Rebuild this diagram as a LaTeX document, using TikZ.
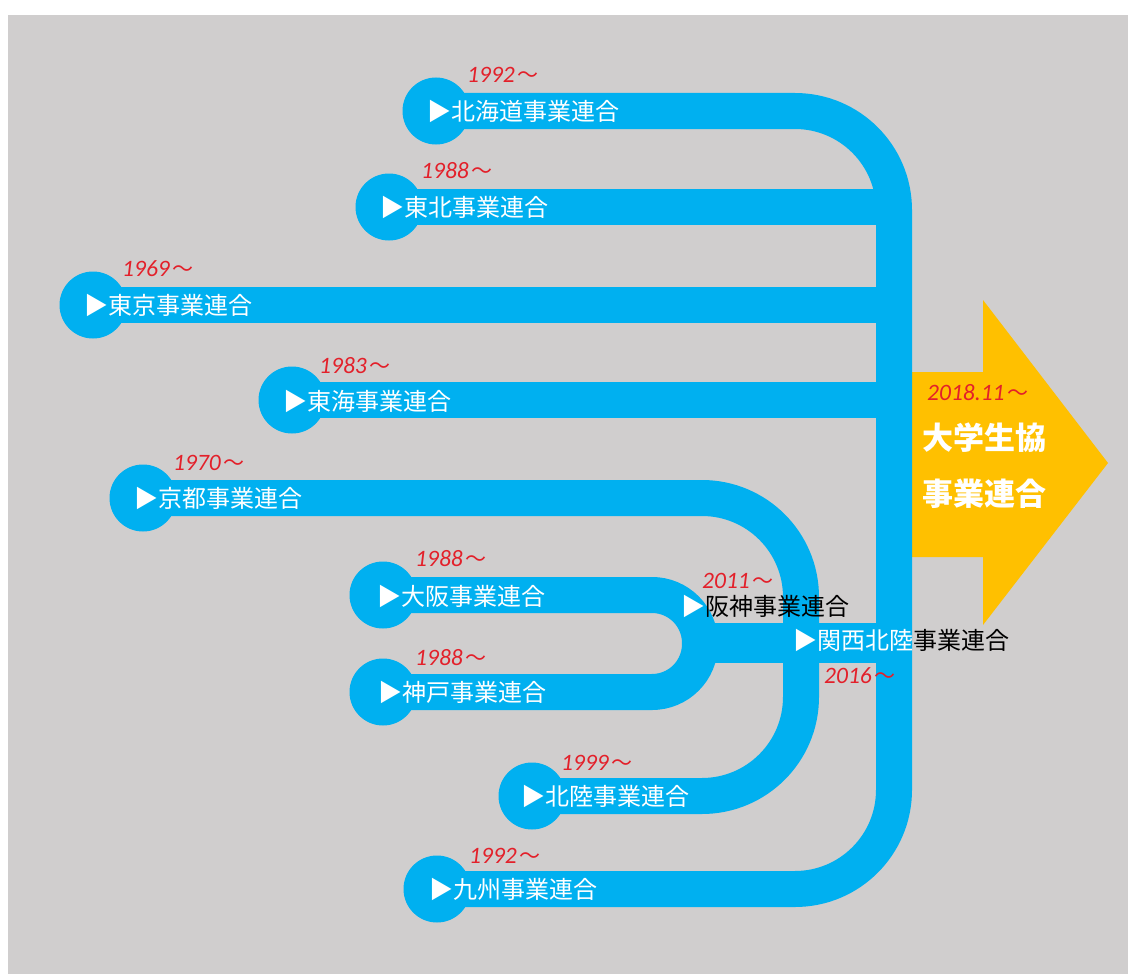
\documentclass[tikz,border=0pt]{standalone}
\usepackage{fontspec}
\setmainfont{Noto Sans CJK JP}
\newfontfamily\cjkf{Noto Sans CJK JP}
\newfontfamily\yearfont{Carlito}
\definecolor{bgc}{HTML}{D0CECE}
\definecolor{bandc}{HTML}{00B0F0}
\definecolor{goldc}{HTML}{FFC000}
\definecolor{yrc}{HTML}{E3202A}
\tikzset{
  bandline/.style={draw=bandc, line width=36pt},
  endcircle/.style={circle, fill=bandc, minimum size=67pt, inner sep=0pt},
  lab/.style={anchor=west, text=white, font=\cjkf\fontsize{24}{24}\selectfont, inner sep=0pt},
  yearlab/.style={anchor=west, text=yrc, font=\yearfont\itshape\fontsize{23.5}{23.5}\selectfont, inner sep=0pt},
  biglab/.style={anchor=west, text=white, font=\cjkf\bfseries\fontsize{31}{31}\selectfont, inner sep=0pt},
}
\newcommand{\wv}{\hspace{3pt}{\cjkf\upshape\fontsize{21}{21}\selectfont ～}}
\begin{document}
\begin{tikzpicture}[x=1pt,y=-1pt]
\useasboundingbox (0,0) rectangle (1128,974);
\fill[white] (0,0) rectangle (1128,974);
\fill[bgc] (8,15) rectangle (1128,974);
% target arrow
\fill[goldc] (910,372) -- (983,372) -- (983,300) -- (1108,463) -- (983,625) -- (983,557) -- (910,557) -- cycle;
% trunk coordinates
\coordinate (tTH) at (894,207);
\coordinate (tTK) at (894,305);
\coordinate (tTS) at (894,400);
\coordinate (tKH) at (894,643);
\coordinate (jOK) at (700,643);
% end circles
\node[endcircle] (hk) at (436,111) {};
\node[endcircle] (th) at (389,207) {};
\node[endcircle] (tk) at (93,305) {};
\node[endcircle] (ts) at (292,400) {};
\node[endcircle] (ky) at (143,498) {};
\node[endcircle] (os) at (383,595) {};
\node[endcircle] (kb) at (383,692) {};
\node[endcircle] (hr) at (532,796) {};
\node[endcircle] (ks) at (437,889) {};
% bands
\draw[bandline, rounded corners=99pt] (hk.center) -- (894,111) -- (894,889) -- (ks.center);
\draw[bandline] (th.center) -- (tTH);
\draw[bandline] (tk.center) -- (tTK);
\draw[bandline] (ts.center) -- (tTS);
\draw[bandline, rounded corners=99pt] (ky.center) -- (801,498) -- (801,796) -- (hr.center);
\draw[bandline, rounded corners=48pt] (os.center) -- (700,595) -- (700,692) -- (kb.center);
\draw[bandline, line width=40pt] (jOK) -- (tKH);
% labels
\node[lab] (lhk) at (427,111) {▶北海道事業連合};
\node[lab] (lth) at (380,207) {▶東北事業連合};
\node[lab] (ltk) at (84,305) {▶東京事業連合};
\node[lab] (lts) at (283,401) {▶東海事業連合};
\node[lab] (lky) at (134,498) {▶京都事業連合};
\node[lab] (los) at (377,596) {▶大阪事業連合};
\node[lab] (lkb) at (378,692) {▶神戸事業連合};
\node[lab] (lhr) at (521,796) {▶北陸事業連合};
\node[lab] (lks) at (429,889) {▶九州事業連合};
\node[lab] (lhs) at (681,606) {▶\textcolor{black}{阪神事業連合}};
\node[lab] (lkh) at (793,640) {▶関西北陸\textcolor{black}{事業連合}};
% years
\node[yearlab] (yhk) at (467,75) {1992\wv};
\node[yearlab] (yth) at (421,171) {1988\wv};
\node[yearlab] (ytk) at (122,269) {1969\wv};
\node[yearlab] (yts) at (319,366) {1983\wv};
\node[yearlab] (yky) at (173,463) {1970\wv};
\node[yearlab] (yos) at (415,559) {1988\wv};
\node[yearlab] (ykb) at (415,658) {1988\wv};
\node[yearlab] (yhr) at (561,763) {1999\wv};
\node[yearlab] (yks) at (469,856) {1992\wv};
\node[yearlab] (yhs) at (702,581) {2011\wv};
\node[yearlab] (ykh) at (824,676) {2016\wv};
\node[yearlab] (ytg) at (927,393) {2018.11\wv};
\node[biglab] (tg1) at (922,438) {大学生協};
\node[biglab] (tg2) at (922,494) {事業連合};
\end{tikzpicture}
\end{document}
